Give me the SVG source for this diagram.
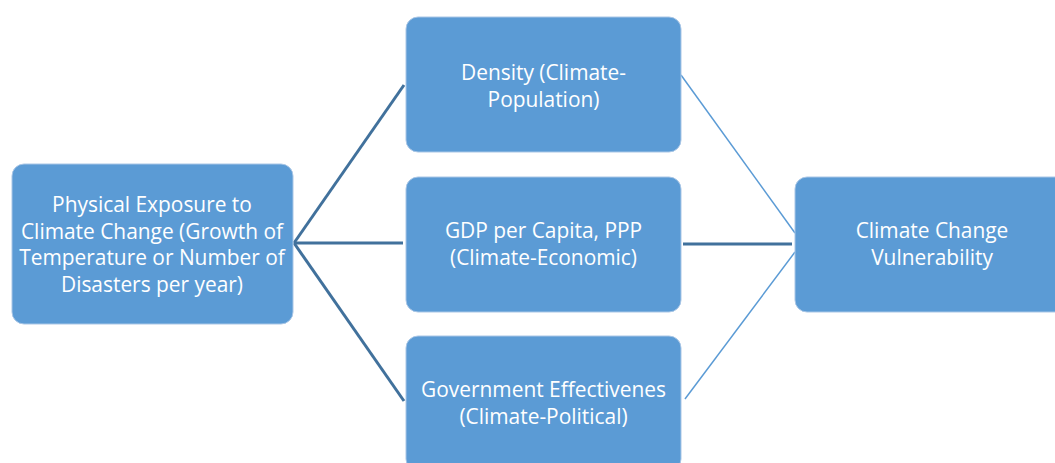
<svg xmlns="http://www.w3.org/2000/svg" width="1055" height="463" viewBox="0 0 1055 463">
<style>
.box{fill:#5B9BD5;stroke:#A9C6E6;stroke-width:1}
.t{font-family:"Open Sans","Liberation Sans",sans-serif;font-size:20.9px;fill:#FFFFFF;text-anchor:middle;dominant-baseline:central}
.dk{stroke:#41719C;stroke-width:3;fill:none}
.lt{stroke:#5B9BD5;stroke-width:1.5;fill:none}
</style>
<rect width="1055" height="463" fill="#FFFFFF"/>
<g id="connectors">
<line class="dk" x1="294" y1="243" x2="404" y2="85"/>
<line class="dk" x1="294" y1="243" x2="403" y2="243"/>
<line class="dk" x1="294" y1="243" x2="404" y2="401"/>
<line class="lt" x1="681" y1="75" x2="795" y2="233"/>
<line class="dk" x1="683" y1="244" x2="792" y2="244"/>
<line class="lt" x1="685" y1="399" x2="795" y2="252"/>
</g>
<g id="n-exposure">
<rect class="box" x="12" y="164" width="281" height="160" rx="12"/>
<text class="t" x="152" y="204">Physical Exposure to</text>
<text class="t" x="152" y="230.5">Climate Change (Growth of</text>
<text class="t" x="152" y="257">Temperature or Number of</text>
<text class="t" x="152" y="283.5">Disasters per year)</text>
</g>
<g id="n-density">
<rect class="box" x="406" y="17" width="275" height="135" rx="12"/>
<text class="t" x="543.5" y="72">Density (Climate-</text>
<text class="t" x="543.5" y="98.5">Population)</text>
</g>
<g id="n-gdp">
<rect class="box" x="406" y="177" width="275" height="135" rx="12"/>
<text class="t" x="543.5" y="230">GDP per Capita, PPP</text>
<text class="t" x="543.5" y="256.5">(Climate-Economic)</text>
</g>
<g id="n-gov">
<rect class="box" x="406" y="336" width="275" height="135" rx="12"/>
<text class="t" x="543.5" y="389">Government Effectivenes</text>
<text class="t" x="543.5" y="415.5">(Climate-Political)</text>
</g>
<g id="n-vuln">
<rect class="box" x="795" y="177" width="275" height="135" rx="12"/>
<text class="t" x="932" y="230">Climate Change</text>
<text class="t" x="932" y="256.5">Vulnerability</text>
</g>
</svg>
